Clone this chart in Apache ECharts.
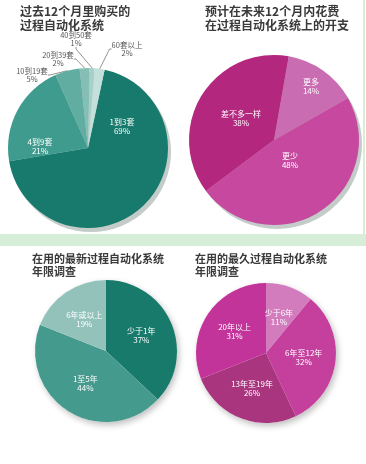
<!DOCTYPE html>
<html><head><meta charset="utf-8">
<script src="https://cdn.jsdelivr.net/npm/echarts@6/dist/echarts.min.js"></script>
<style>html,body{margin:0;padding:0;background:#fff}#c{width:366px;height:464px}</style>
</head><body><div id="c"></div>
<script>
// ---- data ----
const titles = ['过去12个月里购买的\n过程自动化系统', '预计在未来12个月内花费\n在过程自动化系统上的开支', '在用的最新过程自动化系统\n年限调查', '在用的最久过程自动化系统\n年限调查'];
const purchasedCategories = ['1到3套', '4到9套', '10到19套', '20到39套', '40到50套', '60套以上'];
const purchasedValues = [69, 21, 5, 2, 1, 2];
const spendCategories = ['更多', '更少', '差不多一样'];
const spendValues = [14, 48, 38];
const newestCategories = ['少于1年', '1至5年', '6年或以上'];
const newestValues = [37, 44, 19];
const oldestCategories = ['少于6年', '6年至12年', '13年至19年', '20年以上'];
const oldestValues = [11, 32, 26, 31];

// ---- styles / layout ----
const tealColors = ['#177a6c', '#3f9b8e', '#62ada1', '#84beb4', '#a6d0c9', '#c3e0db'];
const spendColors = ['#c96cb1', '#c7499f', '#b4277f'];
const newestColors = ['#177a6b', '#449a8d', '#93c2ba'];
const oldestColors = ['#d27cbd', '#c5409d', '#a9357f', '#c2349a'];
const FONT = '"Noto Sans CJK SC", "Noto Sans", sans-serif';

const pies = [
  { cats: purchasedCategories, vals: purchasedValues, colors: tealColors, center: [88, 148], r: 80, start: 78, outside: [2, 3, 4, 5] },
  { cats: spendCategories, vals: spendValues, colors: spendColors, center: [274, 140], r: 85, start: 80, outside: [] },
  { cats: newestCategories, vals: newestValues, colors: newestColors, center: [106, 351], r: 71, start: 90, outside: [] },
  { cats: oldestCategories, vals: oldestValues, colors: oldestColors, center: [266, 353], r: 70, start: 90, outside: [] }
];
const titlePos = [[20, 4, 12], [205, 4, 12], [32, 252, 11], [195, 252, 11]];
// label anchor positions (text placement only) for the tilted top pies
const labelSpots = {
  0: [[122, 126], [40, 146], [32, 75], [58, 59], [76, 39], [127, 49]],
  1: [[311, 86], [290, 160], [241, 118]]
};

const series = pies.map((p, si) => ({
  type: 'pie',
  z: 3,
  center: p.center,
  radius: [0, p.r],
  startAngle: p.start,
  clockwise: true,
  animation: false,
  avoidLabelOverlap: false,
  itemStyle: { borderWidth: 0 },
  label: {
    position: 'inside', color: '#fff', fontSize: 8, lineHeight: 9, fontFamily: FONT,
    formatter: '{b}\n{c}%'
  },
  labelLine: { show: false },
  labelLayout: labelSpots[si] ? function (params) {
    const s = labelSpots[si][params.dataIndex];
    return { x: s[0], y: s[1], align: 'center', verticalAlign: 'middle', hideOverlap: false };
  } : undefined,
  data: p.cats.map((c, i) => {
    const item = { name: c, value: p.vals[i], itemStyle: { color: p.colors[i] } };
    if (p.outside.indexOf(i) >= 0) {
      item.label = { position: 'outside', color: '#555', fontSize: 7.5, lineHeight: 8, alignTo: 'none', distanceToLabelLine: 1 };
      item.labelLine = { show: true, length: 12, length2: 2, lineStyle: { color: '#777', width: 0.8 } };
    }
    return item;
  })
}));

const graphic = [
  { type: 'rect', z: 0, shape: { x: 0, y: 234, width: 366, height: 12 }, style: { fill: '#d6edd7' } },
  { type: 'rect', z: 0, shape: { x: 363, y: 0, width: 2, height: 234 }, style: { fill: '#d6edd7' } }
];
pies.forEach((p, i) => {
  if (i < 2) {
    graphic.push({ type: 'circle', z: 0, shape: { cx: p.center[0] + 3, cy: p.center[1] + 4, r: p.r }, style: { fill: '#c4ccca' } });
  } else {
    graphic.push({ type: 'circle', z: 0, shape: { cx: p.center[0], cy: p.center[1], r: p.r }, style: { fill: '#fff', shadowBlur: 6, shadowOffsetX: 2, shadowOffsetY: 3, shadowColor: 'rgba(0,0,0,0.25)' } });
  }
});

const chart = echarts.init(document.getElementById('c'), null, { renderer: 'canvas' });
chart.setOption({
  backgroundColor: '#fff',
  animation: false,
  title: titles.map((t, i) => ({
    text: t, left: titlePos[i][0], top: titlePos[i][1], padding: 0,
    textStyle: { fontSize: titlePos[i][2], fontWeight: 'bold', color: '#3a3a3a', lineHeight: titlePos[i][2] + 2, fontFamily: FONT }
  })),
  graphic: graphic,
  series: series
});
</script></body></html>
